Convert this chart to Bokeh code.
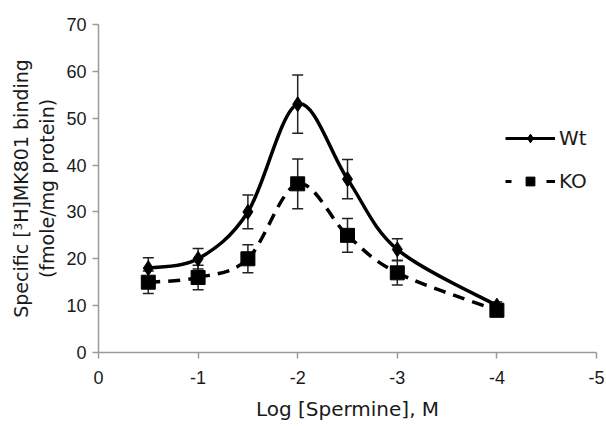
import numpy as np
from bokeh.plotting import figure
from bokeh.models import Range1d, ColumnDataSource, Whisker, TeeHead, Legend, LegendItem, FixedTicker
from bokeh.embed import file_html
from bokeh.resources import INLINE

log_spermine = [-0.5, -1, -1.5, -2, -2.5, -3, -4]
wt = [18, 20, 30, 53, 37, 22, 10]
wt_err = [2.2, 2.2, 3.6, 6.2, 4.2, 2.3, 0.8]
ko = [15, 16, 20, 36, 25, 17, 9]
ko_err = [2.4, 2.6, 3.0, 5.3, 3.6, 2.6, 0.8]
x_ticks = [0, -1, -2, -3, -4, -5]
x_tick_labels = ["0", "-1", "-2", "-3", "-4", "-5"]
y_ticks = [0, 10, 20, 30, 40, 50, 60, 70]

TICK_FONT = "Liberation Sans"
TITLE_FONT = "DejaVu Sans"

p = figure(width=606, height=426, output_backend="svg", toolbar_location=None,
           x_range=Range1d(0, -5), y_range=Range1d(0, 70),
           min_border_left=98, min_border_right=10, min_border_top=24, min_border_bottom=74)
p.outline_line_color = None
p.xgrid.grid_line_color = None
p.ygrid.grid_line_color = None

for ax in (p.xaxis[0], p.yaxis[0]):
    ax.axis_line_color = "#9a9a9a"
    ax.axis_line_width = 1.5
    ax.major_tick_line_color = "#9a9a9a"
    ax.major_tick_line_width = 1.5
    ax.minor_tick_line_color = None
    ax.major_tick_out = 6
    ax.major_tick_in = 0
    ax.major_label_text_font = TICK_FONT
    ax.major_label_text_font_size = "18px"
    ax.major_label_text_color = "#1a1a1a"
    ax.axis_label_text_font = TITLE_FONT
    ax.axis_label_text_font_style = "normal"
    ax.axis_label_text_color = "#1a1a1a"

p.xaxis.axis_label_text_font_size = "20px"
p.yaxis.axis_label_text_font_size = "19px"
p.xaxis.ticker = FixedTicker(ticks=x_ticks)
p.xaxis.major_label_overrides = {t: s for t, s in zip(x_ticks, x_tick_labels)}
p.yaxis.ticker = FixedTicker(ticks=y_ticks)
p.xaxis.axis_label = "Log [Spermine], M"
p.yaxis.axis_label = "Specific [\u00b3H]MK801 binding\n(fmole/mg protein)"
p.xaxis.major_label_standoff = 12
p.xaxis.axis_label_standoff = 10
p.yaxis.major_label_standoff = 6
p.yaxis.axis_label_standoff = 5


def bezier_segments(x, y):
    x = np.asarray(x, float)
    y = np.asarray(y, float)
    n = len(x)
    xp = np.concatenate([[x[0]], x, [x[-1]]])
    yp = np.concatenate([[y[0]], y, [y[-1]]])
    segs = dict(x0=[], y0=[], x1=[], y1=[], cx0=[], cy0=[], cx1=[], cy1=[])
    for i in range(n - 1):
        a, b, c, d = i, i + 1, i + 2, i + 3
        segs["x0"].append(xp[b]); segs["y0"].append(yp[b])
        segs["x1"].append(xp[c]); segs["y1"].append(yp[c])
        segs["cx0"].append(xp[b] + (xp[c] - xp[a]) / 6)
        segs["cy0"].append(yp[b] + (yp[c] - yp[a]) / 6)
        segs["cx1"].append(xp[c] - (xp[d] - xp[b]) / 6)
        segs["cy1"].append(yp[c] - (yp[d] - yp[b]) / 6)
    return ColumnDataSource(segs)


# error bars
for vals, errs in ((wt, wt_err), (ko, ko_err)):
    src = ColumnDataSource(dict(x=log_spermine,
                                lo=[v - e for v, e in zip(vals, errs)],
                                hi=[v + e for v, e in zip(vals, errs)]))
    w = Whisker(source=src, base="x", lower="lo", upper="hi", dimension="height",
                line_color="#222222", line_width=1.5,
                upper_head=TeeHead(size=11, line_color="#222222", line_width=1.5),
                lower_head=TeeHead(size=11, line_color="#222222", line_width=1.5))
    p.add_layout(w)

p.bezier(x0="x0", y0="y0", x1="x1", y1="y1", cx0="cx0", cy0="cy0",
         cx1="cx1", cy1="cy1", source=bezier_segments(log_spermine, wt),
         line_color="black", line_width=3.5)
p.bezier(x0="x0", y0="y0", x1="x1", y1="y1", cx0="cx0", cy0="cy0",
         cx1="cx1", cy1="cy1", source=bezier_segments(log_spermine, ko),
         line_color="black", line_width=3.5, line_dash="12 8")

p.scatter(log_spermine, wt, marker="diamond", size=15, color="black")
p.scatter(log_spermine, ko, marker="square", size=14, color="black")

# legend proxies (line + marker)
nan2 = [np.nan, np.nan]
wt_leg_line = p.line(nan2, nan2, line_color="black", line_width=3)
wt_leg_pt = p.scatter(nan2, nan2, marker="diamond", size=12, color="black")
ko_leg_line = p.line(nan2, nan2, line_color="black", line_width=3, line_dash="6 35 9")
ko_leg_pt = p.scatter(nan2, nan2, marker="square", size=10, color="black")

legend = Legend(items=[LegendItem(label="Wt", renderers=[wt_leg_line, wt_leg_pt]),
                       LegendItem(label="KO", renderers=[ko_leg_line, ko_leg_pt])],
                location=(407, 159), border_line_color=None, background_fill_alpha=0,
                label_text_font=TITLE_FONT, label_text_font_size="20px",
                label_text_color="#1a1a1a",
                glyph_width=50, glyph_height=22, label_height=22, spacing=19,
                label_standoff=4, padding=0, margin=0)
p.add_layout(legend)

open("out.html", "w").write(file_html(p, INLINE))
